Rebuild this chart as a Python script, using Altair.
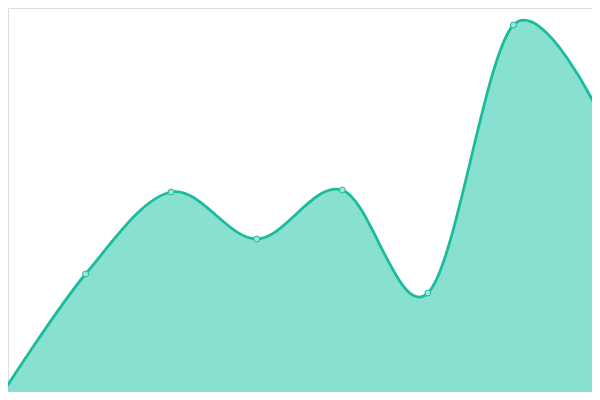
import altair as alt
import pandas as pd

# Data (index along x, value = height above the bottom edge in px units)
idx = [0, 1, 2, 3, 4, 5, 6, 7]
values = [3, 126, 208, 161, 210, 107, 375, 287]

df = pd.DataFrame({"i": idx, "v": values})

LINE = "#1abc9c"
FILL = "#88e0d0"

x = alt.X("i:Q", scale=alt.Scale(domain=[0.0935, 6.918], nice=False, zero=False), axis=None)
y = alt.Y("v:Q", scale=alt.Scale(domain=[8, 392], nice=False, zero=False), axis=None)

base = alt.Chart(df).encode(x=x, y=y)

area = base.mark_area(interpolate="cardinal", fill=FILL, fillOpacity=1)
line = base.mark_line(interpolate="cardinal", color=LINE, strokeWidth=2.8)
pts = base.mark_point(filled=True, size=36, fill="#9fe6d8", stroke=LINE, strokeWidth=1, opacity=1)

chart = (area + line + pts).properties(
    width=584, height=384, padding=0,
    autosize=alt.AutoSizeParams(type="none"),
).configure_view(stroke="transparent", strokeWidth=0).configure(background="white")

chart.save("out.html", embed_options={"renderer": "svg", "actions": False})
